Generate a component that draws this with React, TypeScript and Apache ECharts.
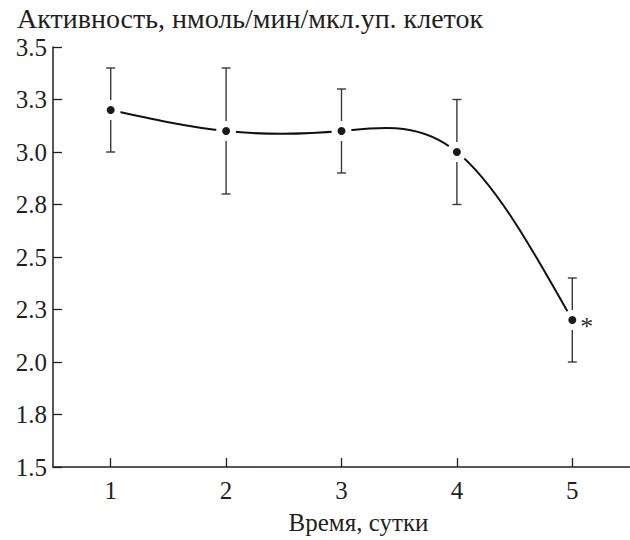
import React, { useEffect, useRef } from "react";
import * as echarts from "echarts";

const days = [1, 2, 3, 4, 5];
const activity = [3.2, 3.1, 3.1, 3.0, 2.2];
const errLow = [3.0, 2.8, 2.9, 2.75, 2.0];
const errHigh = [3.4, 3.4, 3.3, 3.25, 2.4];
const significant = [false, false, false, false, true];
const xTickLabels = ["1", "2", "3", "4", "5"];
const yTickLabels = ["1.5", "1.8", "2.0", "2.3", "2.5", "2.8", "3.0", "3.3", "3.5"];

const FONT = "'Liberation Serif', 'DejaVu Serif', serif";
const INK = "#231f20";
const FS = 25;

function naturalSpline(pts: number[][]) {
  const n = pts.length;
  const h: number[] = [];
  for (let i = 0; i < n - 1; i++) h.push(pts[i + 1][0] - pts[i][0]);
  const M = new Array(n).fill(0);
  if (n > 2) {
    const m = n - 2;
    const a: number[] = [], b: number[] = [], c: number[] = [], d: number[] = [];
    for (let i = 1; i <= m; i++) {
      a.push(h[i - 1]);
      b.push(2 * (h[i - 1] + h[i]));
      c.push(h[i]);
      d.push(6 * ((pts[i + 1][1] - pts[i][1]) / h[i] - (pts[i][1] - pts[i - 1][1]) / h[i - 1]));
    }
    for (let i = 1; i < m; i++) {
      const w = a[i] / b[i - 1];
      b[i] -= w * c[i - 1];
      d[i] -= w * d[i - 1];
    }
    const sol = new Array(m).fill(0);
    sol[m - 1] = d[m - 1] / b[m - 1];
    for (let i = m - 2; i >= 0; i--) sol[i] = (d[i] - c[i] * sol[i + 1]) / b[i];
    for (let i = 0; i < m; i++) M[i + 1] = sol[i];
  }
  const segs: any[] = [];
  for (let i = 0; i < n - 1; i++) {
    const hh = h[i];
    const dy = (pts[i + 1][1] - pts[i][1]) / hh;
    const s0 = dy - (hh * (2 * M[i] + M[i + 1])) / 6;
    const s1 = dy + (hh * (M[i] + 2 * M[i + 1])) / 6;
    segs.push({
      x1: pts[i][0],
      y1: pts[i][1],
      cpx1: pts[i][0] + hh / 3,
      cpy1: pts[i][1] + (s0 * hh) / 3,
      cpx2: pts[i + 1][0] - hh / 3,
      cpy2: pts[i + 1][1] - (s1 * hh) / 3,
      x2: pts[i + 1][0],
      y2: pts[i + 1][1],
    });
  }
  return segs;
}

export default function App() {
  const ref = useRef<HTMLDivElement>(null);

  useEffect(() => {
    document.body.style.margin = "0";
    if (!ref.current) return;
    const chart = echarts.init(ref.current, null, { renderer: "svg" });
    const points = days.map((d, i) => [d, activity[i]]);

    const option: any = {
      animation: false,
      backgroundColor: "#ffffff",
      title: {
        text: "Активность, нмоль/мин/мкл.уп. клеток",
        left: 17,
        top: 4,
        padding: 0,
        textStyle: { fontFamily: FONT, fontSize: 28, fontWeight: "normal", color: INK },
      },
      grid: { left: 53, right: 0, top: 47, bottom: 71, containLabel: false },
      xAxis: {
        type: "value",
        min: 0.5,
        max: 5.5,
        name: "Время, сутки",
        nameLocation: "middle",
        nameGap: 43,
        nameTextStyle: { fontFamily: FONT, fontSize: FS, color: INK, padding: [0, 0, 0, 34] },
        splitLine: { show: false },
        axisLine: { lineStyle: { color: INK, width: 1.5 } },
        axisTick: { inside: true, length: 9, lineStyle: { color: INK, width: 1.3 }, customValues: days },
        axisLabel: {
          customValues: days,
          margin: 11,
          fontFamily: FONT,
          fontSize: FS,
          color: INK,
          formatter: (v: number) => xTickLabels[days.indexOf(Math.round(v))] ?? "",
        },
      },
      yAxis: {
        type: "value",
        min: 1.5,
        max: 3.5,
        interval: 0.25,
        splitLine: { show: false },
        axisLine: { show: true, lineStyle: { color: INK, width: 1.5 } },
        axisTick: { show: true, inside: true, length: 9, lineStyle: { color: INK, width: 1.3 } },
        axisLabel: {
          margin: 6,
          fontFamily: FONT,
          fontSize: FS,
          color: INK,
          formatter: (v: number) => yTickLabels[Math.round((v - 1.5) / 0.25)] ?? "",
        },
      },
      series: [
        {
          type: "custom",
          silent: true,
          data: [[days[0], activity[0]]],
          renderItem: (params: any, api: any) => {
            const px = points.map((p) => api.coord(p));
            const segs = naturalSpline(px);
            return {
              type: "group",
              children: segs.map((s) => ({
                type: "bezierCurve",
                shape: s,
                style: { stroke: "#111111", lineWidth: 2, fill: null },
              })),
            };
          },
        },
        {
          type: "scatter",
          silent: true,
          symbol: "circle",
          symbolSize: 20,
          itemStyle: { color: "#ffffff", opacity: 1 },
          data: points,
        },
        {
          type: "custom",
          silent: true,
          data: days.map((d, i) => [d, errLow[i], errHigh[i]]),
          renderItem: (params: any, api: any) => {
            const lo = api.coord([api.value(0), api.value(1)]);
            const hi = api.coord([api.value(0), api.value(2)]);
            const cap = 4.5;
            const st = { stroke: "#3a3a3a", lineWidth: 1.4 };
            return {
              type: "group",
              children: [
                { type: "line", shape: { x1: lo[0], y1: lo[1], x2: hi[0], y2: hi[1] }, style: st },
                { type: "line", shape: { x1: lo[0] - cap, y1: lo[1], x2: lo[0] + cap, y2: lo[1] }, style: st },
                { type: "line", shape: { x1: hi[0] - cap, y1: hi[1], x2: hi[0] + cap, y2: hi[1] }, style: st },
              ],
            };
          },
        },
        {
          type: "scatter",
          symbol: "circle",
          symbolSize: 8,
          itemStyle: { color: "#1a1a1a", opacity: 1 },
          data: points.map((p, i) => ({
            value: p,
            label: significant[i]
              ? {
                  show: true,
                  formatter: "*",
                  position: "right",
                  distance: 4,
                  offset: [0, 6],
                  fontFamily: FONT,
                  fontSize: 26,
                  color: "#333333",
                }
              : { show: false },
          })),
        },
      ],
    };

    chart.setOption(option);
    return () => chart.dispose();
  }, []);

  return <div ref={ref} style={{ width: 630, height: 540 }} />;
}
